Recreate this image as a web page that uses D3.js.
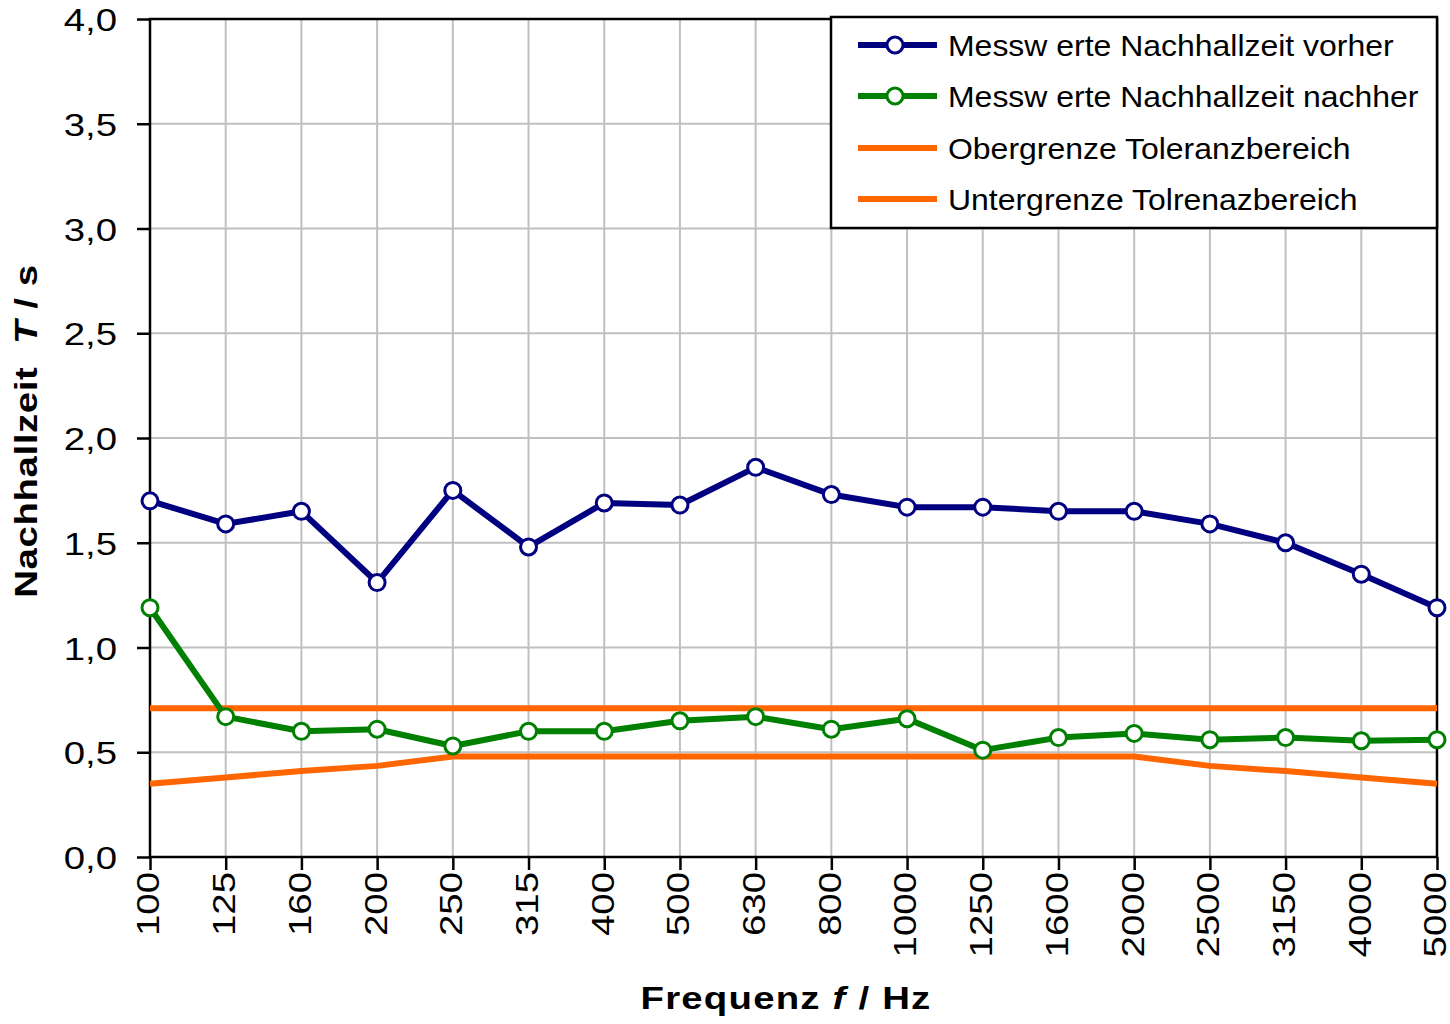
<!DOCTYPE html>
<html>
<head>
<meta charset="utf-8">
<script src="https://cdn.jsdelivr.net/npm/d3@7"></script>
<style>
  body { margin: 0; background: white; }
  text { font-family: "Liberation Sans", Arial, sans-serif; }
</style>
</head>
<body>
<div id="viz_area"></div>
<script>
var width = 1450
var height = 1024

// frequency bands (Hz)
var freqs = ["100", "125", "160", "200", "250", "315", "400", "500", "630", "800",
  "1000", "1250", "1600", "2000", "2500", "3150", "4000", "5000"]

// reverberation time before / after (s)
var vorher = [1.70, 1.59, 1.65, 1.31, 1.75, 1.48, 1.69, 1.68, 1.86, 1.73,
  1.67, 1.67, 1.65, 1.65, 1.59, 1.50, 1.35, 1.19]
var nachher = [1.19, 0.67, 0.60, 0.61, 0.53, 0.60, 0.60, 0.65, 0.67, 0.61,
  0.66, 0.51, 0.57, 0.59, 0.56, 0.57, 0.555, 0.56]

// tolerance band
var obergrenze = [0.71, 0.71, 0.71, 0.71, 0.71, 0.71, 0.71, 0.71, 0.71, 0.71,
  0.71, 0.71, 0.71, 0.71, 0.71, 0.71, 0.71, 0.71]
var untergrenze = [0.35, 0.38, 0.41, 0.435, 0.48, 0.48, 0.48, 0.48, 0.48, 0.48,
  0.48, 0.48, 0.48, 0.48, 0.435, 0.41, 0.38, 0.35]

var yTicks = [0, 0.5, 1, 1.5, 2, 2.5, 3, 3.5, 4]

var legendNames = ["Messw erte Nachhallzeit vorher", "Messw erte Nachhallzeit nachher",
  "Obergrenze Toleranzbereich", "Untergrenze Tolrenazbereich"]

var margin = { top: 19, right: 13, bottom: 167, left: 150 }

// the original fonts are drawn a bit wider than normal
var stretch = 1.2

var svg = d3.select("#viz_area")
  .append("svg")
  .attr("width", width)
  .attr("height", height)
  .style("background-color", "white")

var scX = d3.scalePoint()
  .domain(freqs)
  .range([margin.left, width - margin.right])

var scY = d3.scaleLinear()
  .domain([0, 4])
  .range([height - margin.bottom, margin.top])

// grid
svg.append("g")
  .attr("stroke", "#c0c0c0")
  .attr("stroke-width", 2)
  .selectAll("line")
  .data(freqs)
  .enter().append("line")
  .attr("x1", d => scX(d))
  .attr("x2", d => scX(d))
  .attr("y1", scY(4))
  .attr("y2", scY(0))

svg.append("g")
  .attr("stroke", "#c0c0c0")
  .attr("stroke-width", 2)
  .selectAll("line")
  .data(yTicks)
  .enter().append("line")
  .attr("x1", scX.range()[0])
  .attr("x2", scX.range()[1])
  .attr("y1", d => scY(d))
  .attr("y2", d => scY(d))

// frame
svg.append("rect")
  .attr("x", scX.range()[0])
  .attr("y", scY(4))
  .attr("width", scX.range()[1] - scX.range()[0])
  .attr("height", scY(0) - scY(4))
  .attr("fill", "none")
  .attr("stroke", "black")
  .attr("stroke-width", 2.5)

// y axis
var yAxis = svg.append("g")
  .attr("transform", `translate(${margin.left},0)`)
  .call(d3.axisLeft(scY).tickValues(yTicks).tickSize(13)
    .tickFormat(d => d3.format(".1f")(d).replace(".", ",")))
yAxis.select(".domain").remove()
yAxis.selectAll("line").attr("stroke-width", 2.5)
yAxis.selectAll("text")
  .style("font-size", "32px")
  .attr("fill", "black")
  .attr("text-anchor", "end")
  .attr("x", 0)
  .attr("dy", "0.36em")
  .attr("transform", `translate(-33,0) scale(${stretch},1)`)

// x axis
var xAxis = svg.append("g")
  .attr("transform", `translate(0,${scY(0)})`)
  .call(d3.axisBottom(scX).tickSize(13))
xAxis.select(".domain").remove()
xAxis.selectAll("line").attr("stroke-width", 2.5)
xAxis.selectAll("text")
  .style("font-size", "32px")
  .attr("fill", "black")
  .attr("text-anchor", "end")
  .attr("dy", "0.34em")
  .attr("y", 0)
  .attr("transform", `translate(-2,15) rotate(-90) scale(${stretch},1)`)

// series
var makeLine = d3.line()
  .x((d, i) => scX(freqs[i]))
  .y(d => scY(d))

var series = [
  { values: obergrenze, color: "#ff6600", marker: false },
  { values: untergrenze, color: "#ff6600", marker: false },
  { values: nachher, color: "#008000", marker: true },
  { values: vorher, color: "#000080", marker: true }
]

series.forEach(function (s) {
  svg.append("path")
    .attr("fill", "none")
    .attr("stroke", s.color)
    .attr("stroke-width", 6)
    .attr("stroke-linejoin", "round")
    .attr("d", makeLine(s.values))
  if (s.marker) {
    svg.append("g")
      .selectAll("circle")
      .data(s.values)
      .enter().append("circle")
      .attr("cx", (d, i) => scX(freqs[i]))
      .attr("cy", d => scY(d))
      .attr("r", 8)
      .attr("fill", "white")
      .attr("stroke", s.color)
      .attr("stroke-width", 3)
  }
})

// legend
var lg = svg.append("g").attr("id", "legend")
lg.append("rect")
  .attr("x", 831)
  .attr("y", 17)
  .attr("width", 606)
  .attr("height", 211)
  .attr("fill", "white")
  .attr("stroke", "black")
  .attr("stroke-width", 2.5)

var legendColors = ["#000080", "#008000", "#ff6600", "#ff6600"]
var legendRows = [45, 96, 148, 199]

legendNames.forEach(function (name, i) {
  lg.append("line")
    .attr("x1", 858).attr("x2", 937)
    .attr("y1", legendRows[i]).attr("y2", legendRows[i])
    .attr("stroke", legendColors[i])
    .attr("stroke-width", 6)
  if (i < 2) {
    lg.append("circle")
      .attr("cx", 895).attr("cy", legendRows[i])
      .attr("r", 8)
      .attr("fill", "white")
      .attr("stroke", legendColors[i])
      .attr("stroke-width", 3)
  }
  lg.append("text")
    .attr("transform", `translate(948,${legendRows[i]}) scale(1.065,1)`)
    .attr("dy", "0.36em")
    .style("font-size", "30px")
    .attr("fill", "black")
    .text(name)
})

// axis titles
var xt = svg.append("text")
  .attr("transform", `translate(786,1009) scale(${stretch},1)`)
  .attr("text-anchor", "middle")
  .style("font-size", "32px")
  .style("font-weight", "bold")
  .style("letter-spacing", "1px")
xt.append("tspan").text("Frequenz ")
xt.append("tspan").style("font-style", "italic").text("f")
xt.append("tspan").text(" / Hz")

var yt = svg.append("text")
  .attr("transform", `translate(37,431) rotate(-90) scale(${stretch},1)`)
  .attr("text-anchor", "middle")
  .style("font-size", "32px")
  .style("font-weight", "bold")
  .style("letter-spacing", "0.5px")
yt.append("tspan").text("Nachhallzeit\u00a0\u00a0")
yt.append("tspan").style("font-style", "italic").text("T")
yt.append("tspan").text(" / s")
</script>
</body>
</html>
